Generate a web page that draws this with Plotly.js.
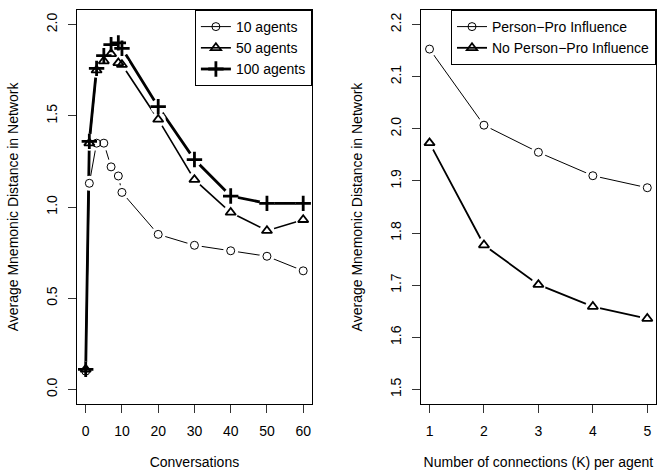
<!DOCTYPE html>
<html>
<head>
<meta charset="utf-8">
<script src="https://cdn.plot.ly/plotly-3.0.1.min.js"></script>
<style>html,body{margin:0;padding:0;background:#fff;}#chart{width:658px;height:470px;}</style>
</head>
<body>
<div id="chart"></div>
<script>
// Left panel data
const conversations = [0, 1, 3, 5, 7, 9, 10, 20, 30, 40, 50, 60];
const agents10  = [0.10, 1.13, 1.35, 1.35, 1.22, 1.17, 1.08, 0.85, 0.79, 0.76, 0.73, 0.65];
const agents50  = [0.11, 1.35, 1.75, 1.80, 1.84, 1.79, 1.78, 1.48, 1.15, 0.97, 0.87, 0.93];
const agents100 = [0.11, 1.36, 1.76, 1.83, 1.89, 1.90, 1.87, 1.55, 1.26, 1.06, 1.02, 1.02];
const leftNames = ["10 agents", "50 agents", "100 agents"];

// Right panel data
const connections = [1, 2, 3, 4, 5];
const personPro   = [2.153, 2.007, 1.955, 1.910, 1.887];
const noPersonPro = [1.973, 1.777, 1.701, 1.659, 1.636];
const rightNames = ["Person\u2212Pro Influence", "No Person\u2212Pro Influence"];

const FONT = "Liberation Sans, Arial, Helvetica, sans-serif";

function series(x, y, name, symbol, lw, mlw, msize, xa, ya, leg) {
  return [
    {x: x, y: y, xaxis: xa, yaxis: ya, mode: 'lines', line: {color: 'black', width: lw},
     showlegend: false, hoverinfo: 'skip'},
    {x: x, y: y, xaxis: xa, yaxis: ya, mode: 'markers',
     marker: {symbol: 'circle', size: 15, color: 'white', line: {width: 0}},
     showlegend: false, hoverinfo: 'skip'},
    {x: x, y: y, xaxis: xa, yaxis: ya, mode: 'markers', name: name, legend: leg, showlegend: false,
     marker: {symbol: symbol, size: msize, color: 'black', line: {color: 'black', width: mlw}}}
  ];
}

// Build in layers: lines, masks, markers
function layered(list) {
  const lines = [], masks = [], marks = [];
  list.forEach(s => { lines.push(s[0]); masks.push(s[1]); marks.push(s[2]); });
  return lines.concat(masks, marks);
}

const leftStyle = {sym: ['circle-open','triangle-up-open','cross-thin-open'], lw: [1,1.6,2.8], mlw: [1,1.8,2.8], ms: [8,9,11]};
const rightStyle = {sym: ['circle-open','triangle-up-open'], lw: [1,1.8], mlw: [1,1.8], ms: [8,9]};

const leftY = [agents10, agents50, agents100];
const rightY = [personPro, noPersonPro];

const left = leftY.map((y, i) => series(conversations, y, leftNames[i], leftStyle.sym[i], leftStyle.lw[i], leftStyle.mlw[i], leftStyle.ms[i], 'x', 'y', 'legend'));
const right = rightY.map((y, i) => series(connections, y, rightNames[i], rightStyle.sym[i], rightStyle.lw[i], rightStyle.mlw[i], rightStyle.ms[i], 'x2', 'y2', 'legend2'));

let data = layered(left).concat(layered(right));

// legend entries
function proxies(names, st, leg, xa, ya) {
  return names.map((nm, i) => ({x: [null], y: [null], xaxis: xa, yaxis: ya, mode: 'lines+markers', name: nm, legend: leg,
    line: {color: 'black', width: st.lw[i]},
    marker: {symbol: st.sym[i], size: st.ms[i], color: 'black', line: {color: 'black', width: st.mlw[i]}}}));
}
data = data.concat(proxies(leftNames, leftStyle, 'legend', 'x', 'y'), proxies(rightNames, rightStyle, 'legend2', 'x2', 'y2'));

const axisCommon = {
  showgrid: false, zeroline: false, showline: true, mirror: true,
  linecolor: 'black', linewidth: 1, ticks: 'outside', ticklen: 8, tickwidth: 1,
  tickcolor: '#333', tickfont: {family: FONT, size: 14, color: 'black'}
};

const layout = {
  width: 658, height: 470,
  margin: {l: 77, r: 2, t: 10, b: 66},
  paper_bgcolor: 'white', plot_bgcolor: 'white',
  font: {family: FONT, size: 14, color: 'black'},
  xaxis: Object.assign({}, axisCommon, {
    domain: [0, 0.4057], range: [-2.4, 62.4], tickvals: [0,10,20,30,40,50,60],
    ticklabelstandoff: 6,
    title: {text: 'Conversations', font: {family: FONT, size: 14}, standoff: 19}
  }),
  yaxis: Object.assign({}, axisCommon, {
    range: [-0.08, 2.08], tickvals: [0, 0.5, 1, 1.5, 2], tickformat: '.1f', tickangle: -90,
    ticklabelstandoff: 5,
    title: {text: 'Average Mnemonic Distance in Network', font: {family: FONT, size: 14}, standoff: 22}
  }),
  xaxis2: Object.assign({}, axisCommon, {
    domain: [0.5938, 1], range: [0.84, 5.16], tickvals: [1,2,3,4,5], anchor: 'y2',
    ticklabelstandoff: 6,
    title: {text: 'Number of connections (K) per agent', font: {family: FONT, size: 14}, standoff: 19}
  }),
  yaxis2: Object.assign({}, axisCommon, {
    anchor: 'x2', range: [1.472, 2.228], tickvals: [1.5,1.6,1.7,1.8,1.9,2.0,2.1,2.2], tickformat: '.1f', tickangle: -90,
    ticklabelstandoff: 5,
    title: {text: 'Average Mnemonic Distance in Network', font: {family: FONT, size: 14}, standoff: 22}
  }),
  legend: {x: 0.4057, y: 1, xanchor: 'right', yanchor: 'top', bordercolor: 'black', borderwidth: 1,
    bgcolor: 'white', font: {family: FONT, size: 14}, tracegroupgap: 0, itemwidth: 30},
  legend2: {x: 1, y: 1, xanchor: 'right', yanchor: 'top', bordercolor: 'black', borderwidth: 1,
    bgcolor: 'white', font: {family: FONT, size: 14}, tracegroupgap: 0, itemwidth: 30},
  showlegend: true
};

Plotly.newPlot('chart', data, layout, {staticPlot: true, displayModeBar: false});
</script>
</body>
</html>
